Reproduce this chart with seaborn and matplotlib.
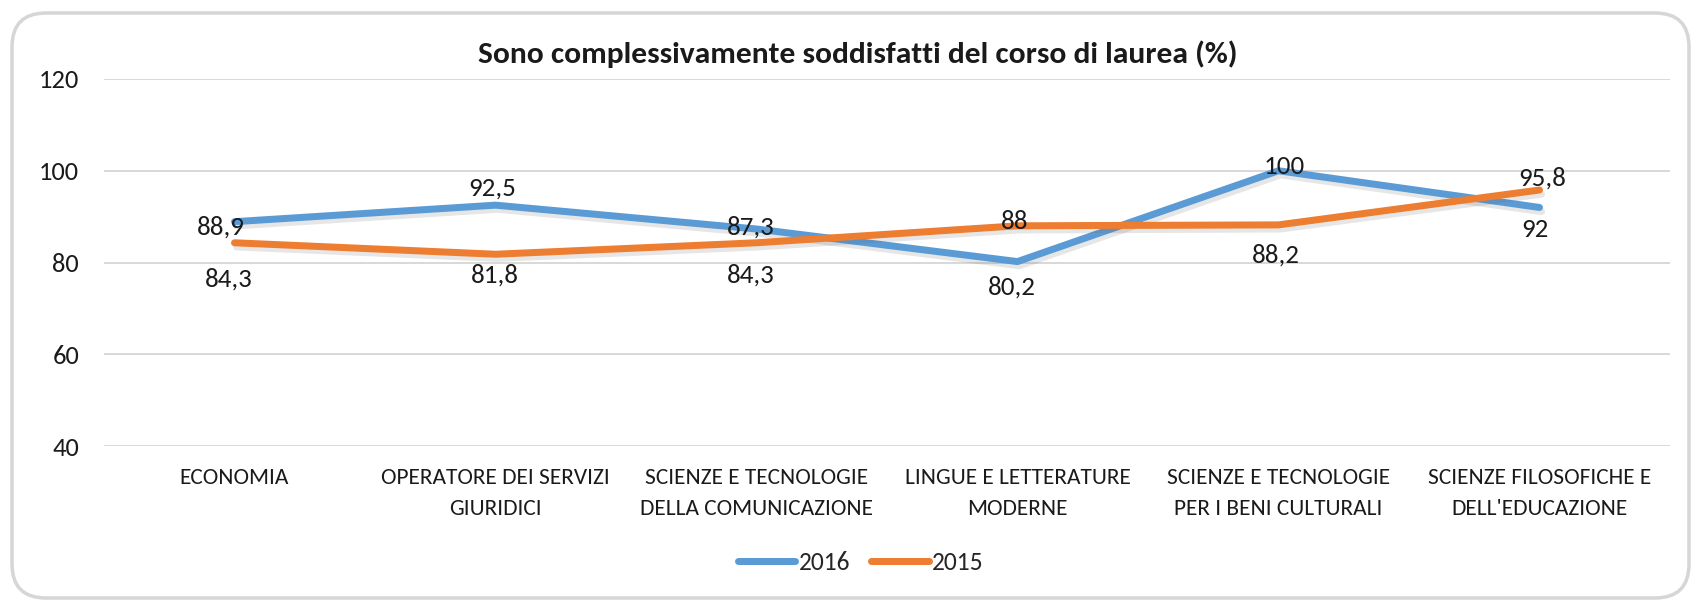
import matplotlib
matplotlib.use("Agg")
import matplotlib.pyplot as plt
import matplotlib.patheffects as pe
from matplotlib import font_manager
from matplotlib.patches import FancyBboxPatch
import pandas as pd
import seaborn as sns

# ---- data -------------------------------------------------------------
categories = [
    "ECONOMIA",
    "OPERATORE DEI SERVIZI\nGIURIDICI",
    "SCIENZE E TECNOLOGIE\nDELLA COMUNICAZIONE",
    "LINGUE E LETTERATURE\nMODERNE",
    "SCIENZE E TECNOLOGIE\nPER I BENI CULTURALI",
    "SCIENZE FILOSOFICHE E\nDELL'EDUCAZIONE",
]
values_2016 = [88.9, 92.5, 87.3, 80.2, 100, 92]
values_2015 = [84.3, 81.8, 84.3, 88, 88.2, 95.8]
series_names = ["2016", "2015"]
y_ticks = [40, 60, 80, 100, 120]
title = "Sono complessivamente soddisfatti del corso di laurea (%)"

# label nudges (pixels, x right / y down) relative to each point
label_nudge_2016 = [(-14, 4), (-3, -18), (-6, -3), (-6, 24), (6, -5), (-5, 21)]
label_nudge_2015 = [(-6, 35), (-1, 20), (-6, 31), (-3, -5), (-3, 29), (3, -13)]

colors = {"2016": "#5b9bd5", "2015": "#ed7d31"}

# ---- style ------------------------------------------------------------
sns.set_theme(style="white")
installed = {f.name for f in font_manager.fontManager.ttflist}
family = next((f for f in ["Carlito", "Calibri", "Lato"] if f in installed), "DejaVu Sans")
plt.rcParams["font.family"] = [family, "DejaVu Sans"]

DPI = 100
W, H = 1692, 602


def px(v):
    """pixels -> points"""
    return v * 72.0 / DPI


df = pd.DataFrame({
    "idx": list(range(len(categories))) * 2,
    "value": values_2016 + values_2015,
    "anno": [series_names[0]] * len(categories) + [series_names[1]] * len(categories),
})

fig = plt.figure(figsize=(W / DPI, H / DPI), dpi=DPI)
fig.patch.set_facecolor("white")

# rounded chart frame
frame = FancyBboxPatch(
    (12 / DPI, (H - 598) / DPI), (1689 - 12) / DPI, (598 - 13) / DPI,
    boxstyle="round,pad=0,rounding_size=0.34",
    transform=fig.dpi_scale_trans, facecolor="none",
    edgecolor="#d6d6d6", linewidth=px(3.5), zorder=-1,
)
fig.patches.append(frame)

left, right = 104 / W, 1670 / W
top, bottom = 1 - 79 / H, 1 - 446 / H
ax = fig.add_axes([left, bottom, right - left, top - bottom])
ax.set_facecolor("none")
ax.set_zorder(2)

shadow = [pe.SimpleLineShadow(offset=(1.5, -3), shadow_color="#666666", alpha=0.16),
          pe.Normal()]

sns.lineplot(
    data=df, x="idx", y="value", hue="anno", hue_order=series_names,
    palette=colors, linewidth=px(7), ax=ax, sort=False, legend=True,
    path_effects=shadow,
)
for line in ax.get_lines():
    line.set_solid_capstyle("round")
    line.set_solid_joinstyle("round")

ax.set_xlim(-0.5, len(categories) - 0.5)
ax.set_ylim(y_ticks[0], y_ticks[-1])
ax.set_yticks(y_ticks)
ax.set_yticklabels([str(t) for t in y_ticks], fontsize=px(26.5), color="#1a1a1a")
ax.set_xticks(range(len(categories)))
ax.set_xticklabels(categories, fontsize=px(23.4), color="#1a1a1a", linespacing=1.68)
ax.tick_params(axis="x", length=0, pad=px(22))
ax.tick_params(axis="y", length=0, pad=px(25))
ax.set_xlabel("")
ax.set_ylabel("")
ax.grid(False)
ax.yaxis.grid(True, color="#d9d9d9", linewidth=px(2))
ax.set_axisbelow(True)
for s in ax.spines.values():
    s.set_visible(False)

# data labels
label_size = 27
digit_half = 0.32 * label_size
for vals, nudges in [(values_2016, label_nudge_2016), (values_2015, label_nudge_2015)]:
    for i, (v, (dx, dy)) in enumerate(zip(vals, nudges)):
        txt = f"{v:g}".replace(".", ",")
        ax.annotate(txt, xy=(i, v), xytext=(dx, -(dy + digit_half)),
                    textcoords="offset pixels", ha="center", va="baseline",
                    fontsize=px(label_size), color="#1a1a1a", zorder=5)

# title
fig.text(858 / W, 1 - 63 / H, title, ha="center", va="baseline",
         fontsize=px(31.5), fontweight="bold", color="#1a1a1a")

# legend
handles, labels = ax.get_legend_handles_labels()
for h in handles:
    h.set_linewidth(px(7))
    h.set_solid_capstyle("round")
    h.set_path_effects([])
ax.legend(handles, labels, loc="center", bbox_to_anchor=(861 / W, 1 - 562 / H),
          bbox_transform=fig.transFigure, ncol=2, frameon=False,
          fontsize=px(25.5), handlelength=2.25, handletextpad=0.15,
          columnspacing=0.8, borderpad=0, borderaxespad=0)

fig.savefig("out.png", dpi=DPI)
